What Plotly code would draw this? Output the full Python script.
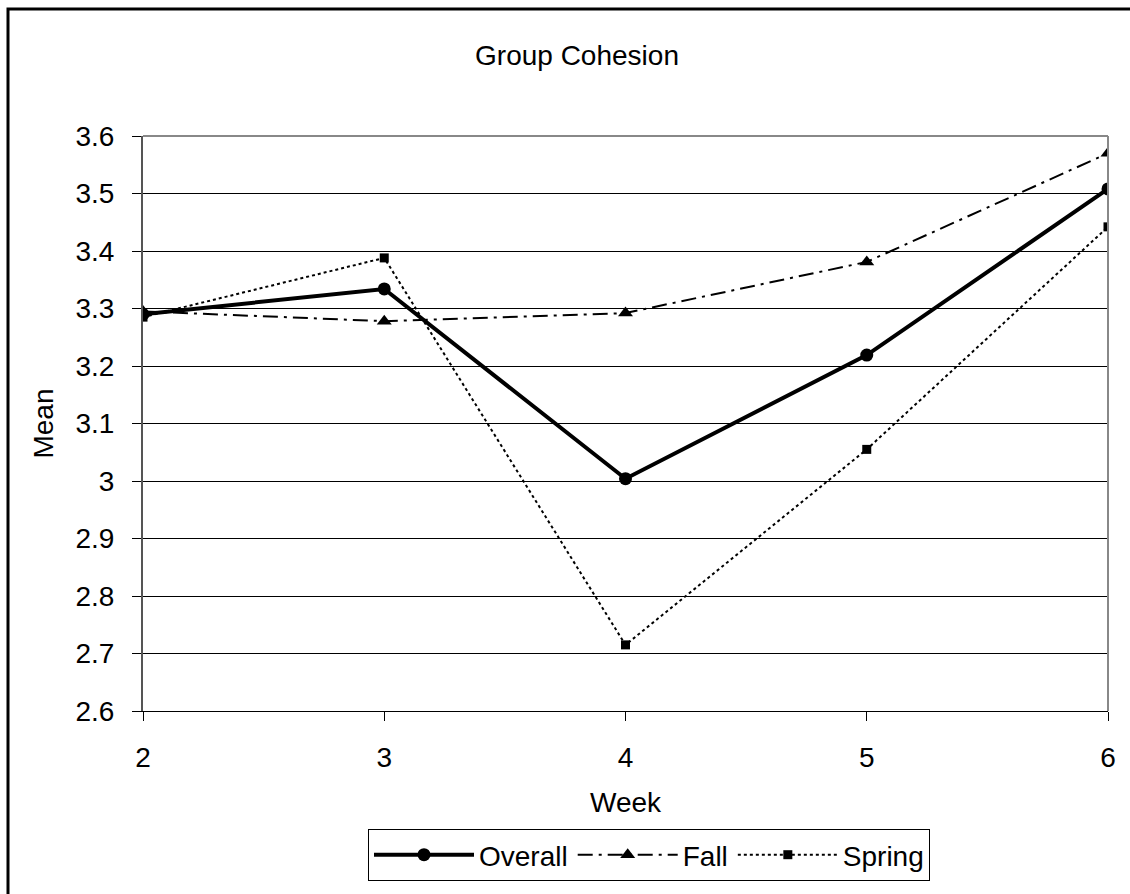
import plotly.graph_objects as go

weeks = [2, 3, 4, 5, 6]
overall = [3.290, 3.334, 3.004, 3.219, 3.508]
fall = [3.295, 3.278, 3.292, 3.381, 3.570]
spring = [3.285, 3.388, 2.715, 3.055, 3.442]

y_ticks = [2.6, 2.7, 2.8, 2.9, 3.0, 3.1, 3.2, 3.3, 3.4, 3.5, 3.6]
y_tick_text = ["2.6", "2.7", "2.8", "2.9", "3", "3.1", "3.2", "3.3", "3.4", "3.5", "3.6"]

FONT = "Liberation Sans, Arial, sans-serif"
FS = 28

fig = go.Figure()
fig.add_trace(go.Scatter(
    x=weeks, y=overall, name="Overall", mode="lines+markers",
    line=dict(color="black", width=4),
    marker=dict(symbol="circle", size=13, color="black"),
))
fig.add_trace(go.Scatter(
    x=weeks, y=fall, name="Fall", mode="lines+markers",
    line=dict(color="black", width=2, dash="longdashdot"),
    marker=dict(symbol="triangle-up", size=13, color="black"),
))
fig.add_trace(go.Scatter(
    x=weeks, y=spring, name="Spring", mode="lines+markers",
    line=dict(color="black", width=2, dash="dot"),
    marker=dict(symbol="square", size=9, color="black"),
))

L, R, T, B = 143, 22, 136, 183
PW, PH = 1130 - L - R, 894 - T - B

fig.update_layout(
    width=1130, height=894,
    margin=dict(l=L, r=R, t=T, b=B),
    paper_bgcolor="white", plot_bgcolor="white",
    font=dict(family=FONT, size=FS, color="black"),
    title=dict(text="Group Cohesion", x=577 / 1130, xanchor="center",
               y=1 - 55 / 894, yanchor="middle", font=dict(size=FS)),
    showlegend=True,
    legend=dict(orientation="h", x=(649 - L) / PW, xanchor="center",
                y=(894 - B - 829) / PH, yanchor="top",
                bordercolor="black", borderwidth=1,
                font=dict(size=FS), itemwidth=100),
    xaxis=dict(range=[2, 6], tickvals=weeks, ticks="outside", ticklen=9,
               tickcolor="black", showline=True, linecolor="black", linewidth=1,
               showgrid=False, zeroline=False, ticklabelstandoff=12,
               title=dict(text="Week", standoff=20, font=dict(size=FS))),
    yaxis=dict(range=[2.6, 3.6], tickvals=y_ticks, ticktext=y_tick_text,
               ticks="outside", ticklen=9, tickcolor="black",
               showline=True, linecolor="#555", linewidth=2,
               showgrid=True, gridcolor="black", gridwidth=1, zeroline=False,
               ticklabelstandoff=12,
               title=dict(text="Mean", standoff=14, font=dict(size=FS))),
    shapes=[
        dict(type="rect", xref="paper", yref="paper",
             x0=(8 - L) / PW, x1=(1140 - L) / PW,
             y0=(894 - B - 904) / PH, y1=(894 - B - 9) / PH,
             line=dict(color="black", width=3), fillcolor="rgba(0,0,0,0)",
             layer="below"),
        dict(type="line", xref="paper", yref="paper", x0=1, x1=1, y0=0, y1=1,
             line=dict(color="#888", width=2)),
        dict(type="line", xref="paper", yref="paper", x0=0, x1=1, y0=1, y1=1,
             line=dict(color="#888", width=2)),
    ],
)

fig.write_html("out.html")
